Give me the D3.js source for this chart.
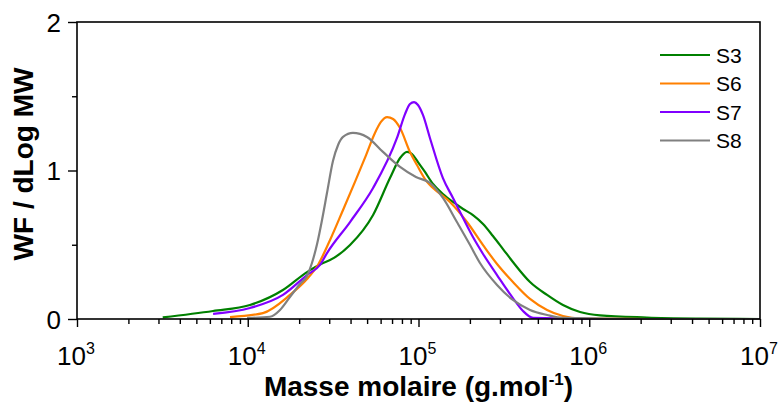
<!DOCTYPE html>
<html><head><meta charset="utf-8">
<script src="https://cdn.jsdelivr.net/npm/d3@7"></script>
<style>body{margin:0;background:#fff}svg{display:block}</style>
</head><body>
<svg id="c" width="782" height="405"></svg>
<script>
// Data: log10 of molar mass (g/mol) and WF/dLogMW
const seriesNames = ["S3", "S6", "S7", "S8"];
const seriesColors = ["#008000", "#ff8000", "#8000ff", "#808080"];
const s3LogM = [3.502, 3.797, 4.013, 4.206, 4.347, 4.441, 4.482, 4.599, 4.734, 4.833, 4.892, 4.933, 4.962, 4.997, 5.038, 5.085, 5.143, 5.202, 5.261, 5.319, 5.378, 5.436, 5.495, 5.553, 5.653, 5.753, 5.846, 5.946, 6.063, 6.338, 6.649, 7.0];
const s3V = [0.011, 0.054, 0.094, 0.195, 0.316, 0.377, 0.397, 0.498, 0.700, 0.949, 1.084, 1.125, 1.111, 1.057, 0.990, 0.909, 0.842, 0.788, 0.741, 0.700, 0.640, 0.559, 0.471, 0.384, 0.249, 0.162, 0.094, 0.047, 0.024, 0.010, 0.003, 0.0];
const s6LogM = [3.896, 4.089, 4.247, 4.347, 4.411, 4.482, 4.558, 4.628, 4.693, 4.745, 4.780, 4.816, 4.851, 4.892, 4.950, 4.991, 5.050, 5.085, 5.184, 5.284, 5.378, 5.460, 5.553, 5.653, 5.753, 5.846, 5.946, 6.338, 7.0];
const s6V = [0.013, 0.040, 0.162, 0.269, 0.364, 0.532, 0.734, 0.923, 1.104, 1.253, 1.327, 1.360, 1.347, 1.286, 1.125, 1.037, 0.923, 0.882, 0.788, 0.653, 0.498, 0.370, 0.249, 0.135, 0.061, 0.020, 0.003, 0.0, 0.0];
const s7LogM = [3.797, 4.013, 4.206, 4.347, 4.423, 4.464, 4.599, 4.734, 4.874, 4.921, 4.950, 4.974, 4.997, 5.026, 5.067, 5.143, 5.202, 5.261, 5.319, 5.378, 5.460, 5.553, 5.612, 5.671, 6.063, 7.0];
const s7V = [0.034, 0.074, 0.162, 0.296, 0.364, 0.444, 0.653, 0.882, 1.219, 1.380, 1.448, 1.461, 1.441, 1.374, 1.219, 0.949, 0.815, 0.680, 0.552, 0.438, 0.296, 0.141, 0.054, 0.007, 0.0, 0.0];
const s8LogM = [3.996, 4.130, 4.189, 4.247, 4.306, 4.347, 4.376, 4.406, 4.435, 4.464, 4.499, 4.529, 4.558, 4.616, 4.698, 4.792, 4.892, 4.985, 5.067, 5.143, 5.225, 5.302, 5.360, 5.460, 5.553, 5.653, 5.753, 5.846, 6.338, 7.0];
const s8V = [0.007, 0.015, 0.061, 0.148, 0.236, 0.290, 0.377, 0.505, 0.667, 0.848, 1.064, 1.172, 1.226, 1.253, 1.226, 1.125, 1.024, 0.956, 0.916, 0.815, 0.653, 0.498, 0.377, 0.229, 0.128, 0.061, 0.027, 0.007, 0.0, 0.0];
const xTickExps = [3, 4, 5, 6, 7];
const yTicks = [0, 1, 2];
const yMinorTicks = [0.5, 1.5];
const xTitle = "Masse molaire (g.mol";
const yTitle = "WF / dLog MW";

const seriesLogM = [s3LogM, s6LogM, s7LogM, s8LogM];
const seriesV = [s3V, s6V, s7V, s8V];

const svg = d3.select("#c");
const L = 77, R = 760, T = 22, B = 319;
const x = d3.scaleLog().domain([1e3, 1e7]).range([L, R]);
const y = d3.scaleLinear().domain([0, 2]).range([B, T]);
const font = "Liberation Sans, Arial, sans-serif";

// curves
const line = d3.line().x(d => x(d[0])).y(d => y(d[1])).curve(d3.curveMonotoneX);
seriesNames.forEach((n, i) => {
  const pts = seriesLogM[i].map((lm, j) => [Math.pow(10, lm), seriesV[i][j]]);
  svg.append("path").datum(pts).attr("d", line)
    .attr("fill", "none").attr("stroke", seriesColors[i]).attr("stroke-width", 2.2)
    .attr("stroke-linejoin", "round");
});

// frame
svg.append("rect").attr("x", L).attr("y", T).attr("width", R - L).attr("height", B - T)
  .attr("fill", "none").attr("stroke", "#000").attr("stroke-width", 1.6);

// x axis
const xAxis = d3.axisBottom(x).tickValues(xTickExps.map(e => Math.pow(10, e))).tickSize(8).tickFormat("");
const gx = svg.append("g").attr("transform", `translate(0,${B})`).call(xAxis);
const minors = [];
for (let e = 3; e < 7; e++) for (let k = 2; k <= 9; k++) minors.push(k * Math.pow(10, e));
const xMinor = d3.axisBottom(x).tickValues(minors).tickSize(5).tickFormat("");
const gxm = svg.append("g").attr("transform", `translate(0,${B})`).call(xMinor);
[gx, gxm].forEach(g => { g.select(".domain").remove(); g.selectAll("line").attr("stroke", "#000").attr("stroke-width", 1.4); });

const xl = svg.append("g");
xTickExps.forEach(e => {
  const t = xl.append("text").attr("x", x(Math.pow(10, e)) - 1).attr("y", 365)
    .attr("text-anchor", "middle").attr("font-family", font).attr("font-size", 26).attr("fill", "#000");
  t.append("tspan").text("10");
  t.append("tspan").attr("dy", -11).attr("font-size", 16).text(String(e));
});

// y axis
const yAxis = d3.axisLeft(y).tickValues(yTicks).tickSize(9).tickPadding(7).tickFormat(d3.format("d"));
const gy = svg.append("g").attr("transform", `translate(${L},0)`).call(yAxis);
const yMinor = d3.axisLeft(y).tickValues(yMinorTicks).tickSize(5).tickFormat("");
const gym = svg.append("g").attr("transform", `translate(${L},0)`).call(yMinor);
[gy, gym].forEach(g => { g.select(".domain").remove(); g.selectAll("line").attr("stroke", "#000").attr("stroke-width", 1.4); });
gy.selectAll("text").attr("font-family", font).attr("font-size", 26).attr("fill", "#000").attr("dy", "0.36em");

// titles
const xt = svg.append("text").attr("x", (L + R) / 2).attr("y", 396).attr("text-anchor", "middle")
  .attr("font-family", font).attr("font-weight", "bold").attr("font-size", 28).attr("fill", "#000");
xt.append("tspan").text(xTitle);
xt.append("tspan").attr("dy", -11).attr("font-size", 17).text("-1");
xt.append("tspan").attr("dy", 11).text(")");

svg.append("text").attr("transform", `translate(33,164) rotate(-90)`)
  .attr("text-anchor", "middle").attr("font-family", font).attr("font-weight", "bold")
  .attr("font-size", 28).attr("fill", "#000").text(yTitle);

// legend
const lg = svg.append("g");
seriesNames.forEach((n, i) => {
  const yy = 55 + i * 28.5;
  lg.append("line").attr("x1", 660).attr("x2", 710).attr("y1", yy).attr("y2", yy)
    .attr("stroke", seriesColors[i]).attr("stroke-width", 2.2);
  lg.append("text").attr("x", 716).attr("y", yy).attr("dy", "0.36em")
    .attr("font-family", font).attr("font-size", 21).attr("fill", "#000").text(n);
});
</script>
</body></html>
